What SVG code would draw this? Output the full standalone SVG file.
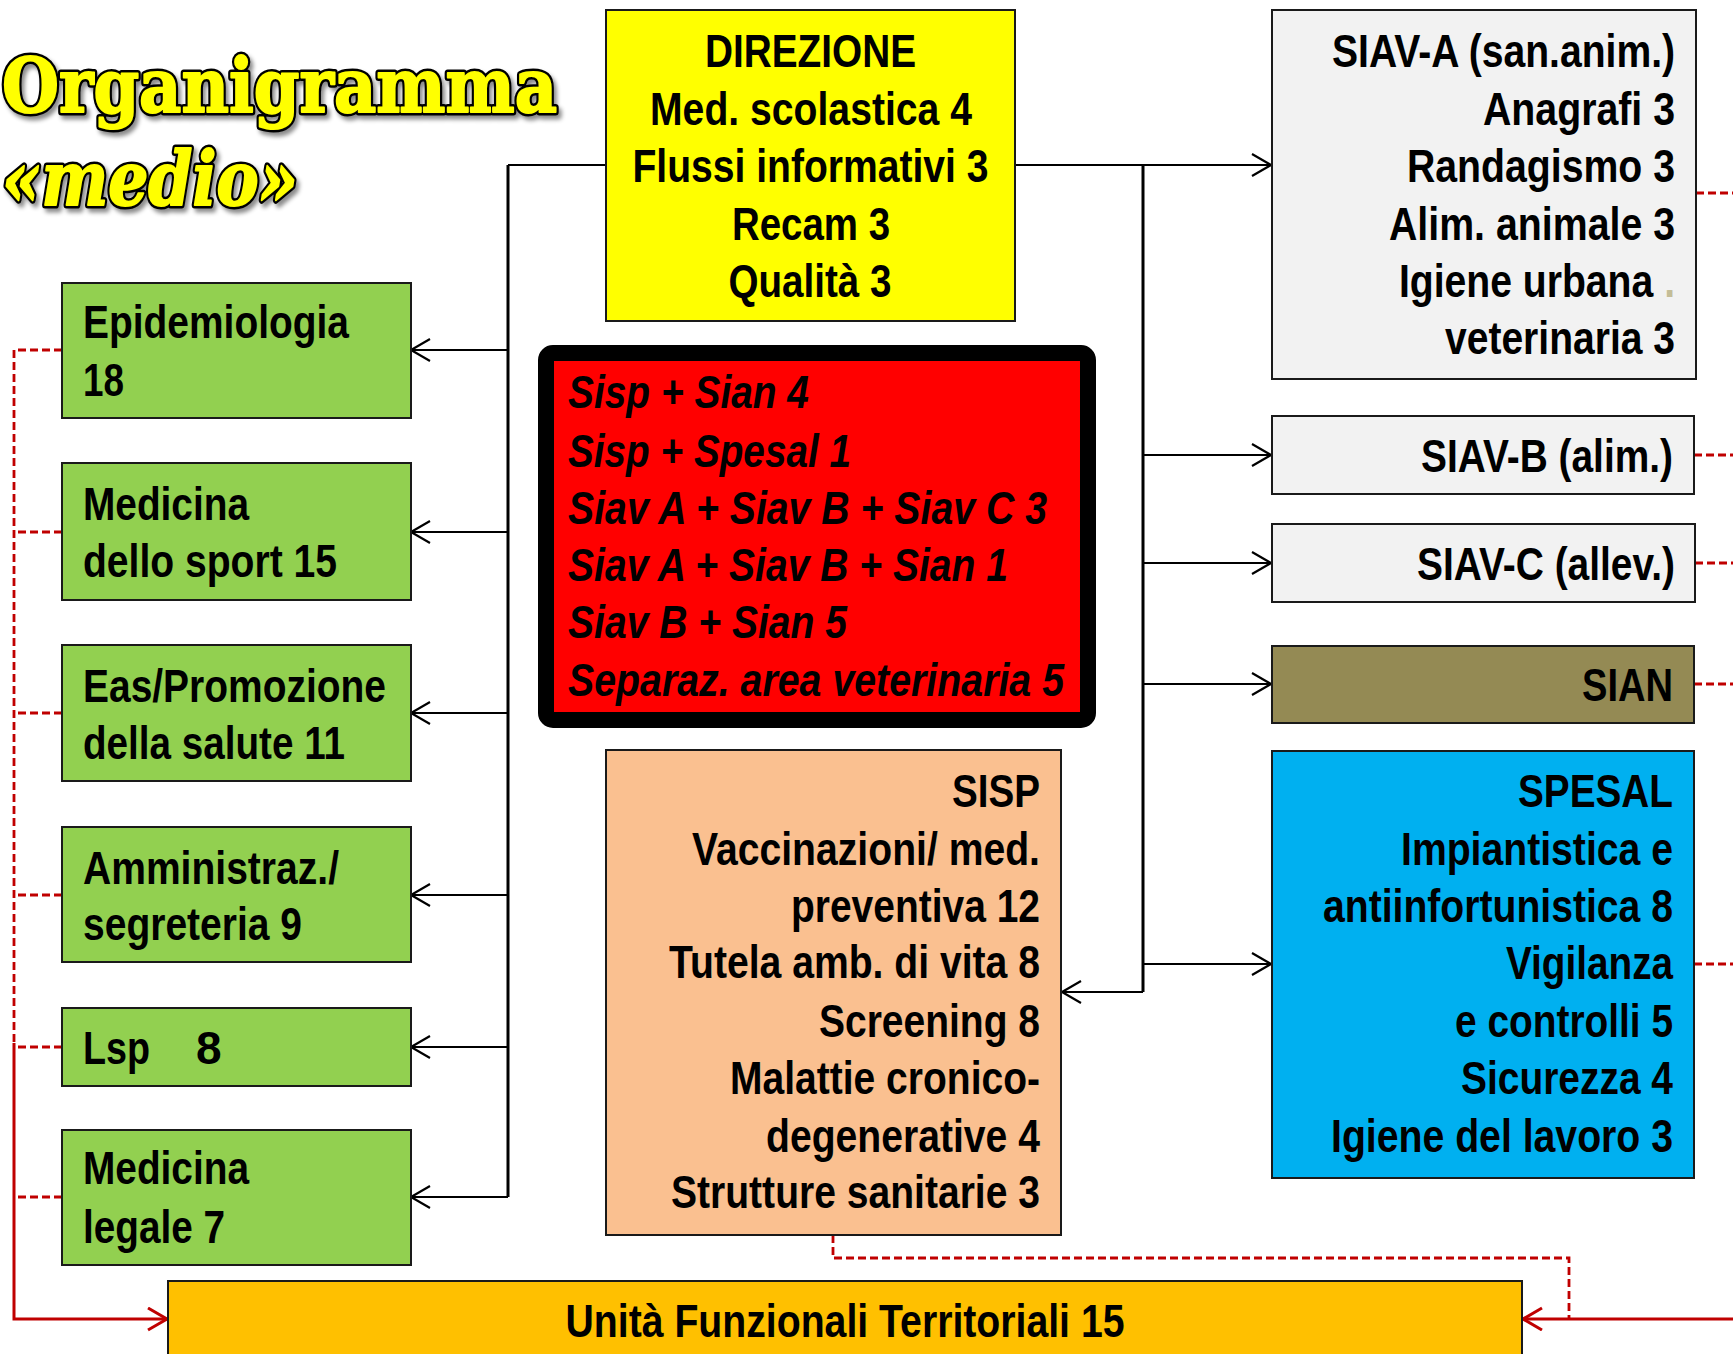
<svg xmlns="http://www.w3.org/2000/svg" width="1733" height="1354" viewBox="0 0 1733 1354">
<style>
.t{font-family:"Liberation Sans",Arial,sans-serif;font-weight:bold;font-size:46px;fill:#000}
.ti{font-style:italic}
.box{stroke:#1a1a1a;stroke-width:2}
.con{fill:none;stroke:#000;stroke-width:2.2}
.trunk{fill:none;stroke:#000;stroke-width:3}
.red{fill:none;stroke:#c00000;stroke-width:2.8;stroke-dasharray:8 4}
.reds{fill:none;stroke:#c00000;stroke-width:3}
.title{font-family:"DejaVu Serif","Liberation Serif",serif;font-weight:bold;font-size:74px}
.tback{fill:#000;stroke:#000;stroke-width:7;stroke-linejoin:round}
.tfront{fill:#ffff00;stroke:#ffff00;stroke-width:2;stroke-linejoin:round}
</style>
<defs>
<marker id="ar" markerUnits="userSpaceOnUse" markerWidth="24" markerHeight="26" refX="20" refY="12" orient="auto">
<path d="M1,1 L20,12 L1,23" fill="none" stroke="#000" stroke-width="2.2"/>
</marker>
<marker id="arr" markerUnits="userSpaceOnUse" markerWidth="24" markerHeight="26" refX="20" refY="12" orient="auto">
<path d="M1,1 L20,12 L1,23" fill="none" stroke="#c00000" stroke-width="3"/>
</marker>
<filter id="sh" x="-5%" y="-20%" width="115%" height="150%">
<feDropShadow dx="3" dy="4" stdDeviation="2" flood-color="#000" flood-opacity="0.45"/>
</filter>
</defs>
<rect width="1733" height="1354" fill="#fff"/>

<g id="title">
<g filter="url(#sh)">
<text class="title tback" x="2" y="112" textLength="555" lengthAdjust="spacingAndGlyphs">Organigramma</text>
<text class="title tback" x="2" y="205" font-style="italic" textLength="296" lengthAdjust="spacingAndGlyphs">«medio»</text>
</g>
<text class="title tfront" x="2" y="112" textLength="555" lengthAdjust="spacingAndGlyphs">Organigramma</text>
<text class="title tfront" x="2" y="205" font-style="italic" textLength="296" lengthAdjust="spacingAndGlyphs">«medio»</text>
</g>

<g id="connectors">
<path class="trunk" d="M508,165 V1197"/>
<path class="con" d="M508,165 H606"/>
<path class="con" d="M508,350 H411" marker-end="url(#ar)"/>
<path class="con" d="M508,532 H411" marker-end="url(#ar)"/>
<path class="con" d="M508,713 H411" marker-end="url(#ar)"/>
<path class="con" d="M508,895 H411" marker-end="url(#ar)"/>
<path class="con" d="M508,1047 H411" marker-end="url(#ar)"/>
<path class="con" d="M508,1197 H411" marker-end="url(#ar)"/>
<path class="con" d="M1015,165 H1271" marker-end="url(#ar)"/>
<path class="trunk" d="M1143,165 V992"/>
<path class="con" d="M1143,455 H1271" marker-end="url(#ar)"/>
<path class="con" d="M1143,563 H1271" marker-end="url(#ar)"/>
<path class="con" d="M1143,684 H1271" marker-end="url(#ar)"/>
<path class="con" d="M1143,964 H1271" marker-end="url(#ar)"/>
<path class="con" d="M1143,992 H1062" marker-end="url(#ar)"/>
<path class="red" d="M62,350 H14 V1043"/>
<path class="red" d="M62,532 H14"/>
<path class="red" d="M62,713 H14"/>
<path class="red" d="M62,895 H14"/>
<path class="red" d="M62,1047 H14"/>
<path class="red" d="M62,1197 H14"/>
<path class="reds" d="M14,1043 V1319 H167" marker-end="url(#arr)"/>
<path class="red" d="M1696,193 H1733"/>
<path class="red" d="M1694,455 H1733"/>
<path class="red" d="M1695,563 H1733"/>
<path class="red" d="M1694,684 H1733"/>
<path class="red" d="M1694,964 H1733"/>
<path class="red" d="M833,1235 V1258 H1569 V1319"/>
<path class="reds" d="M1733,1319 H1523" marker-end="url(#arr)"/>
</g>

<g id="direzione">
<rect class="box" x="606" y="10" width="409" height="311" fill="#ffff00"/>
<text class="t" text-anchor="middle" x="810.5" y="67" textLength="211" lengthAdjust="spacingAndGlyphs">DIREZIONE</text>
<text class="t" text-anchor="middle" x="811" y="125" textLength="322" lengthAdjust="spacingAndGlyphs">Med. scolastica 4</text>
<text class="t" text-anchor="middle" x="810.5" y="182" textLength="356" lengthAdjust="spacingAndGlyphs">Flussi informativi 3</text>
<text class="t" text-anchor="middle" x="811" y="240" textLength="158" lengthAdjust="spacingAndGlyphs">Recam 3</text>
<text class="t" text-anchor="middle" x="810" y="297" textLength="163" lengthAdjust="spacingAndGlyphs">Qualità 3</text>
</g>

<g id="siav-a">
<rect class="box" x="1272" y="10" width="424" height="369" fill="#f2f2f2"/>
<text class="t" text-anchor="end" x="1675" y="67" textLength="343" lengthAdjust="spacingAndGlyphs">SIAV-A (san.anim.)</text>
<text class="t" text-anchor="end" x="1675" y="125" textLength="192" lengthAdjust="spacingAndGlyphs">Anagrafi 3</text>
<text class="t" text-anchor="end" x="1675" y="182" textLength="268" lengthAdjust="spacingAndGlyphs">Randagismo 3</text>
<text class="t" text-anchor="end" x="1675" y="240" textLength="286" lengthAdjust="spacingAndGlyphs">Alim. animale 3</text>
<text class="t" text-anchor="end" x="1675" y="297" textLength="276" lengthAdjust="spacingAndGlyphs">Igiene urbana <tspan style="fill:#c4bd97">.</tspan></text>
<text class="t" text-anchor="end" x="1675" y="354" textLength="230" lengthAdjust="spacingAndGlyphs">veterinaria 3</text>
</g>

<g id="siav-b">
<rect class="box" x="1272" y="416" width="422" height="78" fill="#f2f2f2"/>
<text class="t" text-anchor="end" x="1673" y="472" textLength="252" lengthAdjust="spacingAndGlyphs">SIAV-B (alim.)</text>
</g>
<g id="siav-c">
<rect class="box" x="1272" y="524" width="423" height="78" fill="#f2f2f2"/>
<text class="t" text-anchor="end" x="1675" y="580" textLength="258" lengthAdjust="spacingAndGlyphs">SIAV-C (allev.)</text>
</g>
<g id="sian">
<rect class="box" x="1272" y="646" width="422" height="77" fill="#948a54"/>
<text class="t" text-anchor="end" x="1673" y="701" textLength="91" lengthAdjust="spacingAndGlyphs">SIAN</text>
</g>

<g id="spesal">
<rect class="box" x="1272" y="751" width="422" height="427" fill="#00b0f0"/>
<text class="t" text-anchor="end" x="1673" y="807" textLength="155" lengthAdjust="spacingAndGlyphs">SPESAL</text>
<text class="t" text-anchor="end" x="1673" y="865" textLength="272" lengthAdjust="spacingAndGlyphs">Impiantistica e</text>
<text class="t" text-anchor="end" x="1673" y="922" textLength="350" lengthAdjust="spacingAndGlyphs">antiinfortunistica 8</text>
<text class="t" text-anchor="end" x="1673" y="979" textLength="167" lengthAdjust="spacingAndGlyphs">Vigilanza</text>
<text class="t" text-anchor="end" x="1673" y="1037" textLength="218" lengthAdjust="spacingAndGlyphs">e controlli 5</text>
<text class="t" text-anchor="end" x="1673" y="1094" textLength="212" lengthAdjust="spacingAndGlyphs">Sicurezza 4</text>
<text class="t" text-anchor="end" x="1673" y="1152" textLength="342" lengthAdjust="spacingAndGlyphs">Igiene del lavoro 3</text>
</g>

<g id="integrazioni">
<rect x="546" y="353" width="542" height="367" rx="7" fill="#ff0000" stroke="#000" stroke-width="16"/>
<text class="t ti" x="568" y="408" textLength="241" lengthAdjust="spacingAndGlyphs">Sisp + Sian 4</text>
<text class="t ti" x="568" y="467" textLength="283" lengthAdjust="spacingAndGlyphs">Sisp + Spesal 1</text>
<text class="t ti" x="568" y="524" textLength="479" lengthAdjust="spacingAndGlyphs">Siav A + Siav B + Siav C 3</text>
<text class="t ti" x="568" y="581" textLength="440" lengthAdjust="spacingAndGlyphs">Siav A + Siav B + Sian 1</text>
<text class="t ti" x="568" y="638" textLength="279" lengthAdjust="spacingAndGlyphs">Siav B + Sian 5</text>
<text class="t ti" x="568" y="696" textLength="496" lengthAdjust="spacingAndGlyphs">Separaz. area veterinaria 5</text>
</g>

<g id="sisp">
<rect class="box" x="606" y="750" width="455" height="485" fill="#fac090"/>
<text class="t" text-anchor="end" x="1040" y="807" textLength="88" lengthAdjust="spacingAndGlyphs">SISP</text>
<text class="t" text-anchor="end" x="1040" y="865" textLength="348" lengthAdjust="spacingAndGlyphs">Vaccinazioni/ med.</text>
<text class="t" text-anchor="end" x="1040" y="922" textLength="249" lengthAdjust="spacingAndGlyphs">preventiva 12</text>
<text class="t" text-anchor="end" x="1040" y="978" textLength="371" lengthAdjust="spacingAndGlyphs">Tutela amb. di vita 8</text>
<text class="t" text-anchor="end" x="1040" y="1037" textLength="221" lengthAdjust="spacingAndGlyphs">Screening 8</text>
<text class="t" text-anchor="end" x="1040" y="1094" textLength="310" lengthAdjust="spacingAndGlyphs">Malattie cronico-</text>
<text class="t" text-anchor="end" x="1040" y="1152" textLength="274" lengthAdjust="spacingAndGlyphs">degenerative 4</text>
<text class="t" text-anchor="end" x="1040" y="1208" textLength="369" lengthAdjust="spacingAndGlyphs">Strutture sanitarie 3</text>
</g>

<g id="epidemiologia">
<rect class="box" x="62" y="283" width="349" height="135" fill="#92d050"/>
<text class="t" x="83" y="338" textLength="266" lengthAdjust="spacingAndGlyphs">Epidemiologia</text>
<text class="t" x="83" y="396" textLength="41" lengthAdjust="spacingAndGlyphs">18</text>
</g>
<g id="medicina-sport">
<rect class="box" x="62" y="463" width="349" height="137" fill="#92d050"/>
<text class="t" x="83" y="520" textLength="166" lengthAdjust="spacingAndGlyphs">Medicina</text>
<text class="t" x="83" y="577" textLength="254" lengthAdjust="spacingAndGlyphs">dello sport 15</text>
</g>
<g id="eas">
<rect class="box" x="62" y="645" width="349" height="136" fill="#92d050"/>
<text class="t" x="83" y="702" textLength="303" lengthAdjust="spacingAndGlyphs">Eas/Promozione</text>
<text class="t" x="83" y="759" textLength="262" lengthAdjust="spacingAndGlyphs">della salute 11</text>
</g>
<g id="amministrazione">
<rect class="box" x="62" y="827" width="349" height="135" fill="#92d050"/>
<text class="t" x="83" y="884" textLength="256" lengthAdjust="spacingAndGlyphs">Amministraz./</text>
<text class="t" x="83" y="940" textLength="219" lengthAdjust="spacingAndGlyphs">segreteria 9</text>
</g>
<g id="lsp">
<rect class="box" x="62" y="1008" width="349" height="78" fill="#92d050"/>
<text class="t" x="83" y="1064" textLength="67" lengthAdjust="spacingAndGlyphs">Lsp</text>
<text class="t" x="196" y="1064">8</text>
</g>
<g id="medicina-legale">
<rect class="box" x="62" y="1130" width="349" height="135" fill="#92d050"/>
<text class="t" x="83" y="1184" textLength="166" lengthAdjust="spacingAndGlyphs">Medicina</text>
<text class="t" x="83" y="1243" textLength="142" lengthAdjust="spacingAndGlyphs">legale 7</text>
</g>

<g id="uft">
<rect class="box" x="168" y="1281" width="1354" height="90" fill="#ffc000"/>
<text class="t" text-anchor="middle" x="845" y="1337" textLength="559" lengthAdjust="spacingAndGlyphs">Unità Funzionali Territoriali 15</text>
</g>
</svg>
